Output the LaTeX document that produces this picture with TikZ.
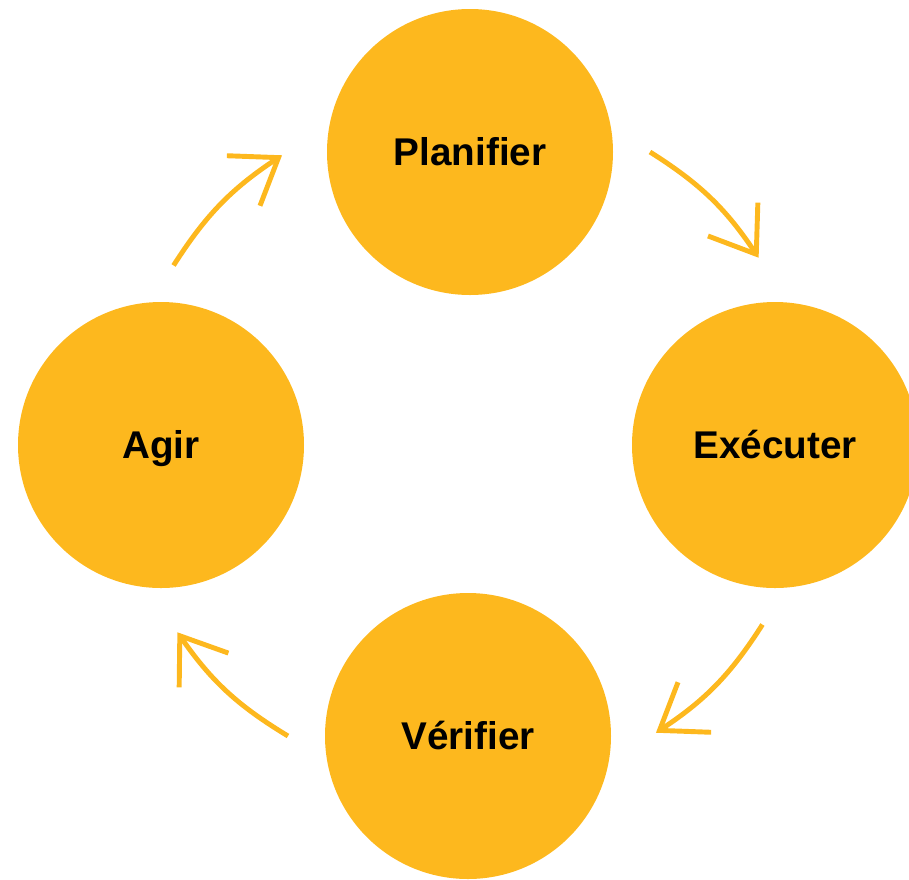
\documentclass[tikz,border=0pt]{standalone}
\usepackage{fontspec}
\setmainfont{Liberation Sans}
\usetikzlibrary{arrows.meta}
\definecolor{pdcayellow}{RGB}{253,184,30}
\begin{document}
\begin{tikzpicture}[x=1cm,y=1cm,
  phase/.style={circle,fill=pdcayellow,minimum size=2.86cm,inner sep=0pt,
    text height=1.4ex,text depth=0pt,font=\fontsize{11}{13}\selectfont\bfseries},
  loopflow/.style={draw=pdcayellow,line width=1.4pt,
    -{Straight Barb[length=4.2mm,width=6mm]},bend left=12}]
  \useasboundingbox (0,0) rectangle (9.09,8.79);
  % the four phases
  \node[phase] (plan) at (4.70,7.27) {Planifier};
  \node[phase] (exec) at (7.75,4.34) {Exécuter};
  \node[phase] (verif) at (4.68,1.43) {Vérifier};
  \node[phase] (agir) at (1.61,4.34) {Agir};
  % arrows round the cycle
  \foreach \from/\a/\to/\b in {agir/86/plan/181,plan/0/exec/95,exec/266/verif/1,verif/180/agir/275}
    \draw[loopflow] ([shift={(\a:1.80)}]\from.center) to ([shift={(\b:1.88)}]\to.center);
\end{tikzpicture}
\end{document}
